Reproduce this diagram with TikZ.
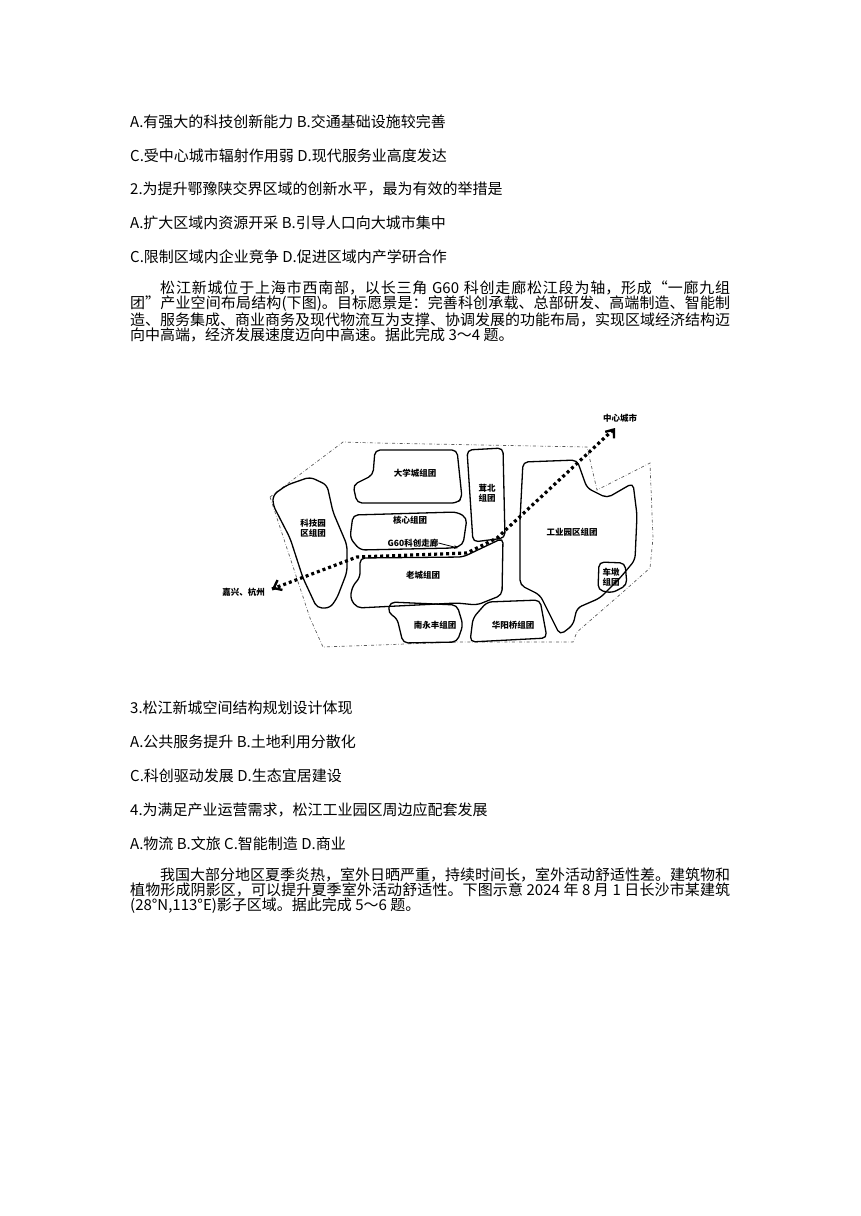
\documentclass[tikz,border=0pt]{standalone}
\usetikzlibrary{arrows.meta,calc}
\usepackage{fontspec}
\setmainfont{Liberation Serif}
\newfontfamily\cjk{Noto Sans CJK SC}
\XeTeXlinebreaklocale "zh"
\XeTeXlinebreakskip=0pt plus 1pt
\begin{document}
\begin{tikzpicture}[x=1pt,y=-1pt,
  txt/.style={anchor=base west,inner sep=0,font=\cjk\fontsize{15}{15}\selectfont},
  blob/.style={draw,line width=1.3pt,rounded corners=5pt},
  lab/.style={font=\cjk\bfseries\fontsize{8.5}{10}\selectfont,align=center,inner sep=0}]
\useasboundingbox (0,0) rectangle (860,1216);
\node[txt] (l1) at (130,127) {A.有强大的科技创新能力 B.交通基础设施较完善};
\node[txt] (l2) at (130,161) {C.受中心城市辐射作用弱 D.现代服务业高度发达};
\node[txt] (l3) at (130,194) {2.为提升鄂豫陕交界区域的创新水平，最为有效的举措是};
\node[txt] (l4) at (130,228) {A.扩大区域内资源开采 B.引导人口向大城市集中};
\node[txt] (l5) at (130,262) {C.限制区域内企业竞争 D.促进区域内产学研合作};
\node[txt,text width=600pt,align=justify,anchor=north west] (p1) at (130,281) {\fontsize{15}{34}\selectfont\parindent=30pt\indent 松江新城位于上海市西南部，以长三角 G60 科创走廊松江段为轴，形成“一廊九组团”产业空间布局结构(下图)。目标愿景是：完善科创承载、总部研发、高端制造、智能制造、服务集成、商业商务及现代物流互为支撑、协调发展的功能布局，实现区域经济结构迈向中高端，经济发展速度迈向中高速。据此完成 3～4 题。};

% map
\draw[dash dot,gray!70!black,line width=0.7pt] (270,497)--(343,442)--(377,443)--(587,447)--(597,490)--(650,463)--(653,538)--(650,568)--(623,592)--(577,632)--(573,642)--(460,642)--(323,647)--(310,618)--cycle;
\draw[blob] (273,495)--(287,485)--(310,477)--(327,485)--(333,512)--(347,545)--(347,572)--(337,598)--(330,608)--(317,608)--(303,578)--(290,538)--(273,505)--cycle;
\draw[blob] (375,450)--(457,450)--(462,498)--(457,503)--(357,503)--(353,485)--(373,475)--cycle;
\draw[blob] (353,515)--(457,512)--(467,518)--(463,545)--(453,548)--(360,550)--(350,538)--cycle;
\draw[blob] (360,558)--(463,557)--(503,538)--(502,595)--(477,605)--(457,603)--(357,608)--(350,598)--(353,585)--(360,578)--cycle;
\draw[blob] (467,450)--(503,448)--(505,538)--(473,542)--cycle;
\draw[blob] (523,462)--(577,460)--(587,488)--(607,498)--(633,483)--(637,515)--(635,560)--(620,578)--(600,598)--(577,608)--(573,625)--(560,635)--(550,615)--(540,595)--(520,585)--(520,520)--cycle;
\draw[blob] (599,562)--(625,563)--(627,585)--(612,593)--(598,590)--cycle;
\draw[blob] (390,602)--(457,605)--(463,625)--(457,642)--(403,643)--(397,618)--(388,613)--cycle;
\draw[blob] (487,602)--(540,600)--(547,638)--(470,642)--(473,618)--cycle;
% corridor
\coordinate (jx) at (272,589);
\coordinate (zx) at (615,428);
\draw[line width=3.2pt,dash pattern=on 3pt off 3pt] (jx)--(357,557)--(467,553)--(497,538)--(zx);
\draw[line width=2.4pt,-{Straight Barb[length=7pt,width=11pt]}] ($(zx)+(-3,4)$)--(zx);
\draw[line width=2.4pt,-{Straight Barb[length=7pt,width=11pt]}] ($(jx)+(4,-2)$)--(jx);
\node[lab,anchor=west] (zxl) at (603,418) {中心城市};
\node[lab,anchor=east] (jxl) at (265,592) {嘉兴、杭州};
\node[lab] (g60) at (413,543) {G60科创走廊};
\draw[line width=0.8pt,-stealth] (g60.east)--(458,548);
\node[lab] at (313,528) {科技园\\区组团};
\node[lab] at (415,473) {大学城组团};
\node[lab] at (410,520) {核心组团};
\node[lab] at (423,575) {老城组团};
\node[lab] at (487,493) {茸北\\组团};
\node[lab] at (572,532) {工业园区组团};
\node[lab] at (611,577) {车墩\\组团};
\node[lab] at (435,625) {南永丰组团};
\node[lab] at (513,625) {华阳桥组团};

\node[txt] (q3) at (130,713) {3.松江新城空间结构规划设计体现};
\node[txt] (q3a) at (130,747) {A.公共服务提升 B.土地利用分散化};
\node[txt] (q3c) at (130,781) {C.科创驱动发展 D.生态宜居建设};
\node[txt] (q4) at (130,815) {4.为满足产业运营需求，松江工业园区周边应配套发展};
\node[txt] (q4a) at (130,849) {A.物流 B.文旅 C.智能制造 D.商业};
\node[txt,text width=600pt,align=justify,anchor=north west] (p2) at (130,868) {\fontsize{15}{34}\selectfont\parindent=30pt\indent 我国大部分地区夏季炎热，室外日晒严重，持续时间长，室外活动舒适性差。建筑物和植物形成阴影区，可以提升夏季室外活动舒适性。下图示意 2024 年 8 月 1 日长沙市某建筑(28°N,113°E)影子区域。据此完成 5～6 题。};
\end{tikzpicture}
\end{document}
